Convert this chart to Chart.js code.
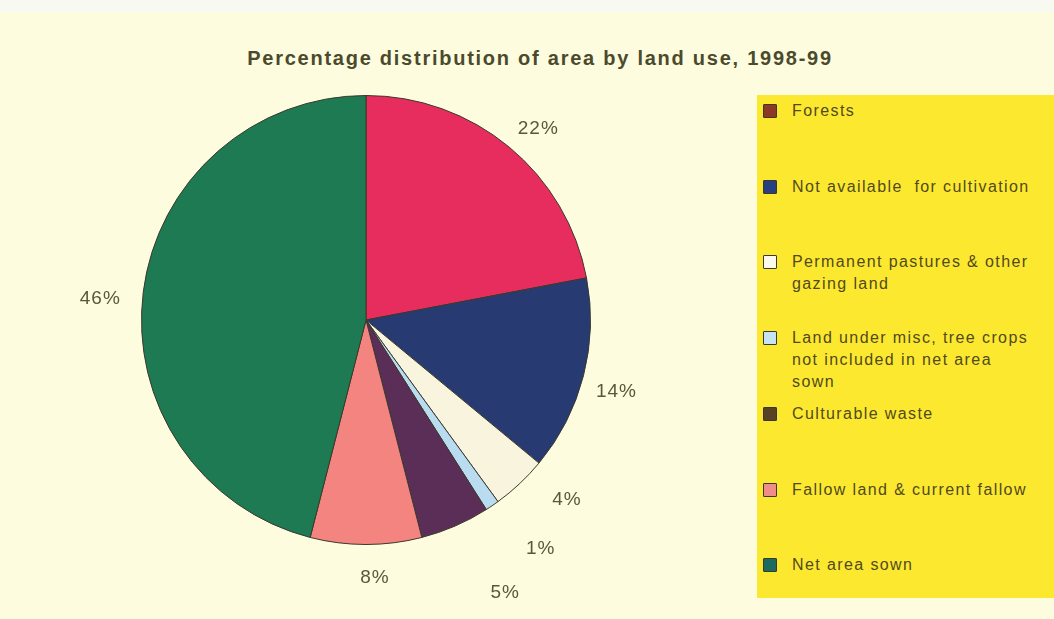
<!DOCTYPE html>
<html>
<head>
<meta charset="utf-8">
<script src="https://cdn.jsdelivr.net/npm/chart.js@4.4.0/dist/chart.umd.min.js"></script>
<style>
  html, body { margin: 0; padding: 0; }
  body {
    width: 1054px; height: 619px; overflow: hidden; position: relative;
    background: #fdfcdf;
    font-family: "Liberation Sans", Arial, sans-serif;
  }
  #topband { position: absolute; left: 0; top: 0; width: 1054px; height: 12px; background: #f8faf2; }
  #title {
    position: absolute; left: 0; top: 47px; width: 1080px; text-align: center;
    font-weight: bold; font-size: 20px; color: #4b4a2c; letter-spacing: 1.75px;
  }
  #wrap { position: absolute; left: 0; top: 0; width: 1054px; height: 619px; }
  #legend {
    position: absolute; left: 757px; top: 95px; width: 297px; height: 503px;
    background: #fde830;
  }
  .item { position: absolute; left: 0; }
  .sw {
    position: absolute; left: 6px; top: 4px; width: 12px; height: 12px;
    border: 1px solid #3d3a22; border-radius: 1px;
  }
  .txt {
    position: absolute; left: 35px; top: 0; white-space: pre;
    font-size: 16px; line-height: 22px; color: #514a1c; letter-spacing: 1.4px;
  }
</style>
</head>
<body>
<div id="topband"></div>
<div id="title">Percentage distribution of area by land use, 1998-99</div>
<div id="wrap"><canvas id="pie" width="1054" height="619"></canvas></div>
<div id="legend"></div>
<script>
var labels = [
  ["Forests"],
  ["Not available  for cultivation"],
  ["Permanent pastures & other", "gazing land"],
  ["Land under misc, tree crops", "not included in net area", "sown"],
  ["Culturable waste"],
  ["Fallow land & current fallow"],
  ["Net area sown"]
];
var shares = [22, 14, 4, 1, 5, 8, 46];

var sliceColors = ['#e62d5d', '#273b72', '#f8f4de', '#b9dcf1', '#5b2e57', '#f4847f', '#1e7a53'];
var swatchColors = ['#8c3a27', '#284080', '#fbf8ee', '#c4e4f6', '#574228', '#ee8d8a', '#1d6a5e'];

// where each percentage sits: extra distance beyond the rim, and angle nudge in degrees
var labelPlace = [[33, 2.4], [36, 1.6], [45, -5], [63, -3.2], [82, -3.6], [33, -2], [42, -2.7]];

// legend built from the same arrays
var legend = document.getElementById('legend');
labels.forEach(function(lines, i){
  var item = document.createElement('div');
  item.className = 'item';
  item.style.top = (5 + i * 75.7) + 'px';
  var sw = document.createElement('div');
  sw.className = 'sw';
  sw.style.background = swatchColors[i];
  var t = document.createElement('div');
  t.className = 'txt';
  t.textContent = lines.join('\n');
  item.appendChild(sw);
  item.appendChild(t);
  legend.appendChild(item);
});

var pctLabels = {
  id: 'pctLabels',
  afterDatasetsDraw: function(chart){
    var ctx = chart.ctx;
    var meta = chart.getDatasetMeta(0);
    ctx.save();
    ctx.font = '19px "Liberation Sans", Arial, sans-serif';
    ctx.letterSpacing = '1px';
    ctx.fillStyle = '#5a573d';
    ctx.textAlign = 'center';
    ctx.textBaseline = 'middle';
    meta.data.forEach(function(arc, i){
      var p = arc.getProps(['x', 'y', 'startAngle', 'endAngle', 'outerRadius'], true);
      var a = (p.startAngle + p.endAngle) / 2 + labelPlace[i][1] * Math.PI / 180;
      var r = p.outerRadius + labelPlace[i][0];
      ctx.fillText(shares[i] + '%', p.x + Math.cos(a) * r, p.y + Math.sin(a) * r);
    });
    ctx.restore();
  }
};

new Chart(document.getElementById('pie'), {
  type: 'pie',
  data: {
    labels: labels.map(function(l){ return l.join(' '); }),
    datasets: [{
      data: shares,
      backgroundColor: sliceColors,
      borderColor: '#3a382c',
      borderWidth: 1
    }]
  },
  options: {
    responsive: false,
    animation: false,
    layout: { padding: { left: 141, right: 463, top: 95, bottom: 74 } },
    plugins: {
      legend: { display: false },
      tooltip: { enabled: false }
    }
  },
  plugins: [pctLabels]
});
</script>
</body>
</html>
